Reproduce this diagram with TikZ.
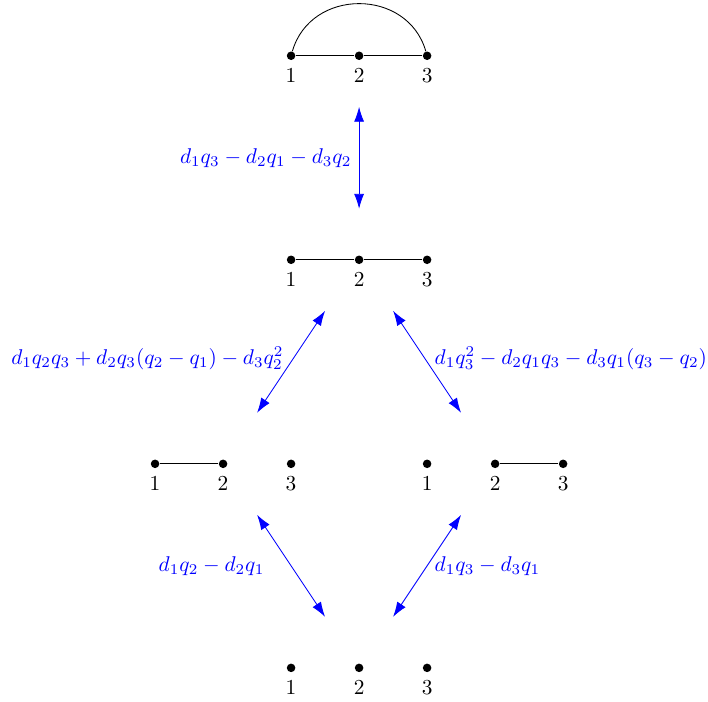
\documentclass[tikz,border=0pt]{standalone}
\usepackage{amsmath,amssymb}
\usetikzlibrary{arrows.meta,positioning}

\begin{document}
\begin{tikzpicture}[x=1.12cm,y=1.12cm,
    vertex/.style={circle,fill,inner sep=0pt,minimum size=4pt},
    mutation/.style={blue,{Latex[length=7pt,width=4.7pt]}-{Latex[length=7pt,width=4.7pt]}},
    poly/.style={blue}]
    \useasboundingbox (-4.28,-0.5) rectangle (6.13,9.82);

    % Top: path with an arc
    \foreach \i in {1,2,3}
      \node[vertex,label=below:\i] (t\i) at (\i-1,9) {};
    \draw (t1) -- (t2) -- (t3);
    \draw (t1) to[out=74,in=106,looseness=1.27] (t3);

    % Middle: path
    \foreach \i in {1,2,3}
      \node[vertex,label=below:\i] (m\i) at (\i-1,6) {};
    \draw (m1) -- (m2) -- (m3);

    % Left and right: one edge each
    \foreach \i in {1,2,3}
      \node[vertex,label=below:\i] (l\i) at (\i-3,3) {};
    \draw (l1) -- (l2);
    \foreach \i in {1,2,3}
      \node[vertex,label=below:\i] (r\i) at (\i+1,3) {};
    \draw (r2) -- (r3);

    % Bottom: no edges
    \foreach \i in {1,2,3}
      \node[vertex,label=below:\i] (b\i) at (\i-1,0) {};

    % Mutations
    \coordinate (tm1) at (1,8.25);   \coordinate (tm2) at (1,6.75);
    \coordinate (ml1) at (0.5,5.25); \coordinate (ml2) at (-0.5,3.75);
    \coordinate (mr1) at (1.5,5.25); \coordinate (mr2) at (2.5,3.75);
    \coordinate (lb1) at (-0.5,2.25); \coordinate (lb2) at (0.5,0.75);
    \coordinate (rb1) at (2.5,2.25); \coordinate (rb2) at (1.5,0.75);

    \draw[mutation] (tm1) -- node[left,poly] {$d_1q_3-d_2q_1-d_3q_2$} (tm2);
    \draw[mutation] (ml1) -- node[left,poly,yshift=1.5pt] {$d_1q_2q_3+d_2q_3(q_2-q_1)-d_3q_2^2$} (ml2);
    \draw[mutation] (mr1) -- node[right,poly,yshift=1.5pt] {$d_1q_3^2-d_2q_1q_3-d_3q_1(q_3-q_2)$} (mr2);
    \draw[mutation] (lb1) -- node[left=9pt,poly] {$d_1q_2-d_2q_1$} (lb2);
    \draw[mutation] (rb1) -- node[right,poly] {$d_1q_3-d_3q_1$} (rb2);
  \end{tikzpicture}
\end{document}
